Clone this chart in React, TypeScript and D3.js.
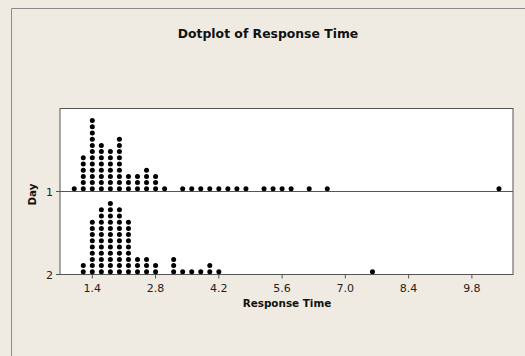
import React from 'react';
import * as d3 from 'd3';

// dot stacks, one column per 0.2 bin
const days = ['1', '2'];
const day1Bins = [1.0, 1.2, 1.4, 1.6, 1.8, 2.0, 2.2, 2.4, 2.6, 2.8, 3.0, 3.4, 3.6, 3.8, 4.0, 4.2, 4.4, 4.6, 4.8, 5.2, 5.4, 5.6, 5.8, 6.2, 6.6, 10.4];
const day1Counts = [1, 6, 12, 8, 7, 9, 3, 3, 4, 3, 1, 1, 1, 1, 1, 1, 1, 1, 1, 1, 1, 1, 1, 1, 1, 1];
const day2Bins = [1.2, 1.4, 1.6, 1.8, 2.0, 2.2, 2.4, 2.6, 2.8, 3.2, 3.4, 3.6, 3.8, 4.0, 4.2, 7.6];
const day2Counts = [2, 9, 11, 12, 11, 9, 3, 3, 2, 3, 1, 1, 1, 2, 1, 1];
const xTicks = [1.4, 2.8, 4.2, 5.6, 7.0, 8.4, 9.8];

const W = 525;
const H = 356;
const plot = { left: 60, right: 513, top: 108.5, bottom: 274.5 };
const font = 'Tahoma, "DejaVu Sans", sans-serif';

export default function App() {
  const x = d3.scaleLinear().domain([0.685, 10.71]).range([plot.left, plot.right]);
  const y = d3.scaleBand().domain(days).range([plot.top, plot.bottom]);
  const step = 6.2; // vertical gap between stacked dots
  const stack = d3.scaleLinear().domain([0, 1]).range([-2.7, -2.7 - step]);

  const series = [
    { day: '1', bins: day1Bins, counts: day1Counts },
    { day: '2', bins: day2Bins, counts: day2Counts },
  ];

  const dots: { cx: number; cy: number }[] = [];
  series.forEach(s => {
    const base = (y(s.day) as number) + y.bandwidth();
    s.bins.forEach((b, i) => {
      d3.range(s.counts[i]).forEach(k => {
        dots.push({ cx: x(b), cy: base + stack(k) });
      });
    });
  });

  return (
    <svg width={W} height={H} style={{ position: 'absolute', left: 0, top: 0 }}>
      <rect x={0} y={0} width={W} height={H} fill="#efebe2" />
      <line x1={11.5} y1={8.5} x2={W} y2={8.5} stroke="#8a8a8a" />
      <line x1={11.5} y1={8.5} x2={11.5} y2={H} stroke="#8a8a8a" />

      <text x={268} y={37.5} textAnchor="middle" fontFamily={font} fontWeight="bold" fontSize={12.4} fill="#111">
        Dotplot of Response Time
      </text>

      <rect x={plot.left} y={plot.top} width={plot.right - plot.left} height={plot.bottom - plot.top} fill="#fff" stroke="#555" strokeWidth={1} />

      {days.map(d => {
        const base = (y(d) as number) + y.bandwidth();
        return (
          <g key={d}>
            <line x1={plot.left - 4} x2={plot.right} y1={base} y2={base} stroke="#555" />
            <text x={plot.left - 7} y={base + 4} textAnchor="end" fontFamily={font} fontSize={11} fill="#222">
              {d}
            </text>
          </g>
        );
      })}

      {xTicks.map(t => (
        <g key={t}>
          <line x1={x(t)} x2={x(t)} y1={plot.bottom} y2={plot.bottom + 4} stroke="#555" />
          <text x={x(t)} y={plot.bottom + 17.5} textAnchor="middle" fontFamily={font} fontSize={11} fill="#222">
            {t.toFixed(1)}
          </text>
        </g>
      ))}

      <text x={287} y={306.5} textAnchor="middle" fontFamily={font} fontWeight="bold" fontSize={10.4} fill="#111">
        Response Time
      </text>
      <text transform={`translate(36,${plot.top + y.bandwidth() + 3}) rotate(-90)`} textAnchor="middle" fontFamily={font} fontWeight="bold" fontSize={10.4} fill="#111">
        Day
      </text>

      {dots.map((p, i) => (
        <circle key={i} cx={p.cx} cy={p.cy} r={2.5} fill="#000" />
      ))}
    </svg>
  );
}
